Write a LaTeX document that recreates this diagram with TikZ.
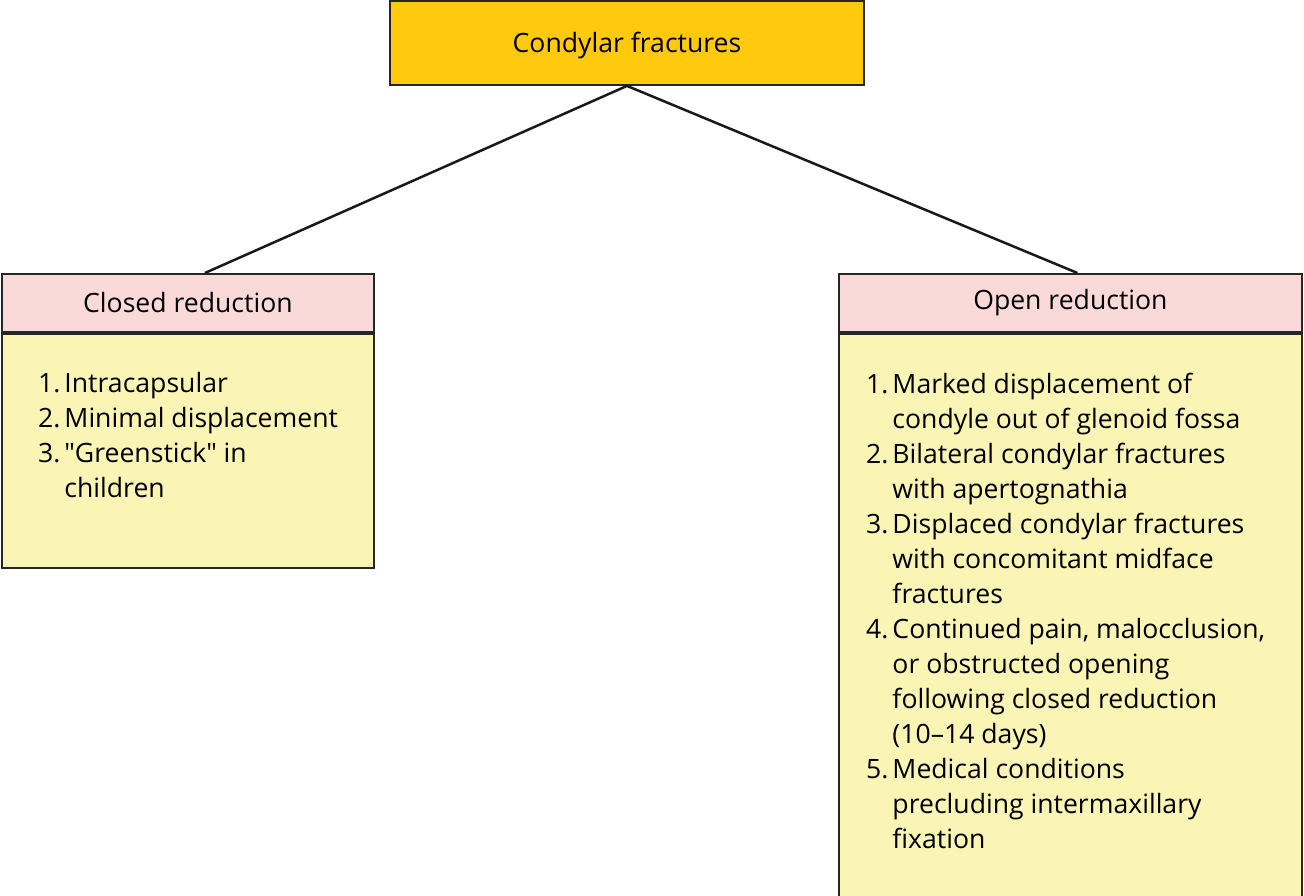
\documentclass[tikz,border=0pt]{standalone}
\usepackage{fontspec}
\setmainfont{Open Sans}
\usetikzlibrary{positioning}

\begin{document}
\begin{tikzpicture}[x=1pt,y=-1pt]

  \definecolor{topcol}{rgb}{1.0,0.79,0.05}
  \definecolor{headcol}{rgb}{0.98,0.85,0.85}
  \definecolor{bodycol}{rgb}{0.98,0.96,0.71}

 \tikzset{
      boxstl/.style={draw=black!85,line width=1.8pt,inner sep=0pt,
        font=\fontsize{26.6}{35}\selectfont},
      liststl/.style={inner sep=0pt,anchor=north west,
        font=\fontsize{26.6}{35}\selectfont},
      linkstl/.style={line width=2.5pt,black!90},
    }

 \useasboundingbox (0,0) rectangle (1304,896);

 % main box
 \node[boxstl,fill=topcol,minimum width=474pt,minimum height=84pt,
   text height=26pt,text depth=6pt] (cond) at (627,43) {Condylar fractures};

 % left side
 \node[boxstl,fill=headcol,anchor=north west,minimum width=372pt,
   minimum height=58pt] (closed) at (1,273) {Closed reduction};
 \node[boxstl,fill=bodycol,anchor=north west,minimum width=372pt,
   minimum height=234pt] (closedb) at (closed.south west) {};

 % right side
 \node[boxstl,fill=headcol,anchor=north west,minimum width=463pt,
   minimum height=58pt] (open) at (838,273) {Open reduction};
 \node[boxstl,fill=bodycol,anchor=north west,minimum width=463pt,
   minimum height=563pt] (openb) at (open.south west) {};

 \draw[linkstl] (cond.south) -- ([xshift=17pt]closed.north);
 \draw[linkstl] (cond.south) -- ([xshift=7pt]open.north);

 \node[liststl] (closedl) at (38,368) {%
   \begin{tabular}{@{}r@{\hspace{4pt}}l@{}}
   1.&Intracapsular\\
   2.&Minimal displacement\\
   3.&″Greenstick″ in\\
     &children
   \end{tabular}};

 \node[liststl] (openl) at (866,369) {%
   \begin{tabular}{@{}r@{\hspace{4pt}}l@{}}
   1.&Marked displacement of\\
     &condyle out of glenoid fossa\\
   2.&Bilateral condylar fractures\\
     &with apertognathia\\
   3.&Displaced condylar fractures\\
     &with concomitant midface\\
     &fractures\\
   4.&Continued pain, malocclusion,\\
     &or obstructed opening\\
     &following closed reduction\\
     &(10--14 days)\\
   5.&Medical conditions\\
     &precluding intermaxillary\\
     &fixation
   \end{tabular}};
\end{tikzpicture}
\end{document}
